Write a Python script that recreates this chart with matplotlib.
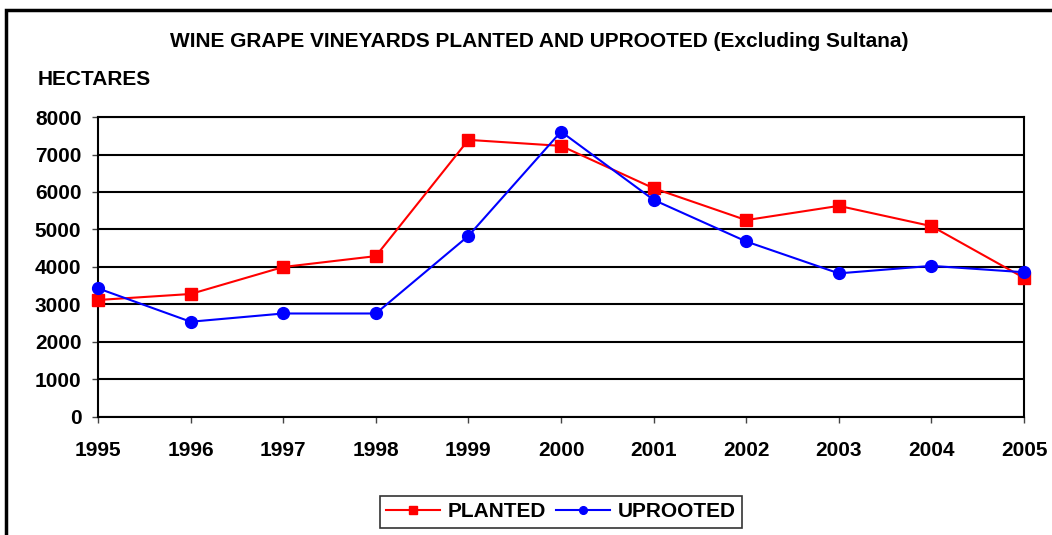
import matplotlib.pyplot as plt
from matplotlib.patches import Rectangle

plt.rcParams['font.family'] = ['Liberation Sans', 'DejaVu Sans']
plt.rcParams['font.weight'] = 'bold'

years = [1995, 1996, 1997, 1998, 1999, 2000, 2001, 2002, 2003, 2004, 2005]
planted = [3120, 3280, 4000, 4290, 7390, 7230, 6100, 5250, 5630, 5090, 3710]
uprooted = [3430, 2540, 2760, 2760, 4830, 7610, 5790, 4680, 3830, 4030, 3860]
yticks = [0, 1000, 2000, 3000, 4000, 5000, 6000, 7000, 8000]

fig = plt.figure(figsize=(10.52, 5.35), dpi=100)
ax = fig.add_axes([0.0932, 0.2206, 0.8802, 0.5607])

# outer chart border (runs off the right and bottom edges)
fig.patches.append(Rectangle((6 / 1052, -0.05), 1.1, (535 - 10) / 535 + 0.05,
                             transform=fig.transFigure, fill=False,
                             edgecolor='black', linewidth=2.5))

ax.plot(years, planted, color='#ff0000', marker='s', markersize=8.5,
        linewidth=1.5, label='PLANTED', clip_on=False, zorder=3)
ax.plot(years, uprooted, color='#0000ff', marker='o', markersize=8.5,
        linewidth=1.5, label='UPROOTED', clip_on=False, zorder=3)

ax.set_xlim(1995, 2005)
ax.set_ylim(0, 8000)
ax.set_xticks(years)
ax.set_yticks(yticks)
ax.grid(axis='y', color='black', linewidth=1.5)
ax.set_axisbelow(True)
for s in ax.spines.values():
    s.set_linewidth(1.5)
ax.tick_params(axis='both', labelsize=15, width=1, length=4, color='#444444')
ax.tick_params(axis='x', pad=13.5)
ax.tick_params(axis='y', pad=8)
for lab in ax.get_xticklabels() + ax.get_yticklabels():
    lab.set_fontweight('bold')

fig.text(0.513, 0.922, 'WINE GRAPE VINEYARDS PLANTED AND UPROOTED (Excluding Sultana)',
         ha='center', va='center', fontsize=15, fontweight='bold')
fig.text(0.036, 0.851, 'HECTARES', ha='left', va='center', fontsize=15,
         fontweight='bold')

leg = fig.legend(loc='center', bbox_to_anchor=(0.533, 0.043), ncol=2,
                 frameon=True, fancybox=False, edgecolor='black',
                 prop={'weight': 'bold', 'size': 15}, handlelength=2.6,
                 markerscale=0.65, columnspacing=0.45, handletextpad=0.38,
                 borderpad=0.3, borderaxespad=0)
leg.get_frame().set_linewidth(1.2)

fig.savefig('out.png', dpi=100)
